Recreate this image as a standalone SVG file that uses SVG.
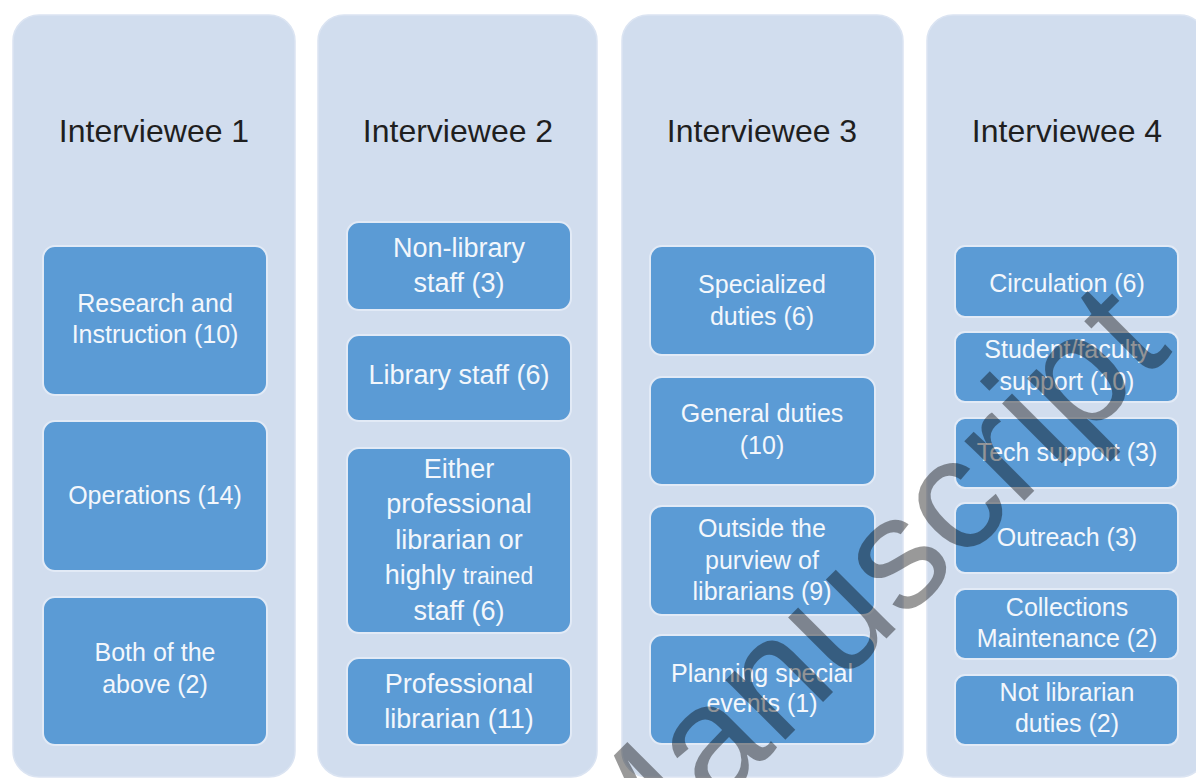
<svg xmlns="http://www.w3.org/2000/svg" width="1196" height="778" viewBox="0 0 1196 778">
<style>
.panel{fill:#d1ddee;stroke:#dbe4f2;stroke-width:1.5}
.box{fill:#5b9bd5;stroke:#e2eaf6;stroke-width:2}
.title{font-family:"Liberation Sans",Arial,sans-serif;font-size:32px;fill:#1f1f1f;text-anchor:middle}
.t{font-family:"Liberation Sans",Arial,sans-serif;font-size:25px;fill:#f3f7fc;text-anchor:middle}
.t2{font-family:"Liberation Sans",Arial,sans-serif;font-size:27px;fill:#f3f7fc;text-anchor:middle}
.wm{font-family:"Liberation Sans",Arial,sans-serif;font-size:160px;fill:#000;fill-opacity:0.4;text-anchor:middle}
</style>
<rect width="1196" height="778" fill="#ffffff"/>

<g id="col1">
<rect class="panel" x="13" y="15" width="282" height="762" rx="26"/>
<text class="title" x="154" y="142">Interviewee 1</text>
</g>
<g id="col2">
<rect class="panel" x="318" y="15" width="279" height="762" rx="26"/>
<text class="title" x="458" y="142">Interviewee 2</text>
</g>
<g id="col3">
<rect class="panel" x="622" y="15" width="281" height="762" rx="26"/>
<text class="title" x="762" y="142">Interviewee 3</text>
</g>
<g id="col4">
<rect class="panel" x="927" y="15" width="279" height="762" rx="26"/>
<text class="title" x="1067" y="142">Interviewee 4</text>
</g>

<g id="connectors"></g>

<g id="n1a"><rect class="box" x="43" y="246" width="224" height="149" rx="12"/>
<text class="t" x="155" y="312">Research and</text><text class="t" x="155" y="343">Instruction (10)</text></g>
<g id="n1b"><rect class="box" x="43" y="421" width="224" height="150" rx="12"/>
<text class="t" x="155" y="504">Operations (14)</text></g>
<g id="n1c"><rect class="box" x="43" y="597" width="224" height="148" rx="12"/>
<text class="t" x="155" y="661">Both of the</text><text class="t" x="155" y="693">above (2)</text></g>

<g id="n2a"><rect class="box" x="347" y="222" width="224" height="88" rx="12"/>
<text class="t2" x="459" y="257">Non-library</text><text class="t2" x="459" y="292">staff (3)</text></g>
<g id="n2b"><rect class="box" x="347" y="335" width="224" height="86" rx="12"/>
<text class="t2" x="459" y="384">Library staff (6)</text></g>
<g id="n2c"><rect class="box" x="347" y="448" width="224" height="185" rx="12"/>
<text class="t2" x="459" y="478">Either</text><text class="t2" x="459" y="513">professional</text><text class="t2" x="459" y="549">librarian or</text><text class="t2" x="459" y="584">highly <tspan font-size="23">trained</tspan></text><text class="t2" x="459" y="620">staff (6)</text></g>
<g id="n2d"><rect class="box" x="347" y="658" width="224" height="87" rx="12"/>
<text class="t2" x="459" y="693">Professional</text><text class="t2" x="459" y="728">librarian (11)</text></g>

<g id="n3a"><rect class="box" x="650" y="246" width="225" height="109" rx="12"/>
<text class="t" x="762" y="293">Specialized</text><text class="t" x="762" y="325">duties (6)</text></g>
<g id="n3b"><rect class="box" x="650" y="377" width="225" height="108" rx="12"/>
<text class="t" x="762" y="422">General duties</text><text class="t" x="762" y="454">(10)</text></g>
<g id="n3c"><rect class="box" x="650" y="506" width="225" height="109" rx="12"/>
<text class="t" x="762" y="537">Outside the</text><text class="t" x="762" y="569">purview of</text><text class="t" x="762" y="600">librarians (9)</text></g>
<g id="n3d"><rect class="box" x="650" y="635" width="225" height="109" rx="12"/>
<text class="t" x="762" y="682">Planning special</text><text class="t" x="762" y="712">events (1)</text></g>

<g id="n4a"><rect class="box" x="955" y="246" width="223" height="71" rx="10"/>
<text class="t" x="1067" y="292">Circulation (6)</text></g>
<g id="n4b"><rect class="box" x="955" y="332" width="223" height="70" rx="10"/>
<text class="t" x="1067" y="358">Student/faculty</text><text class="t" x="1067" y="390">support (10)</text></g>
<g id="n4c"><rect class="box" x="955" y="418" width="223" height="70" rx="10"/>
<text class="t" x="1067" y="461">Tech support (3)</text></g>
<g id="n4d"><rect class="box" x="955" y="503" width="223" height="70" rx="10"/>
<text class="t" x="1067" y="546">Outreach (3)</text></g>
<g id="n4e"><rect class="box" x="955" y="589" width="223" height="70" rx="10"/>
<text class="t" x="1067" y="616">Collections</text><text class="t" x="1067" y="647">Maintenance (2)</text></g>
<g id="n4f"><rect class="box" x="955" y="675" width="223" height="70" rx="10"/>
<text class="t" x="1067" y="701">Not librarian</text><text class="t" x="1067" y="732">duties (2)</text></g>

<g id="watermark">
<text class="wm" x="0" y="0" transform="translate(897,628) rotate(-45)">Manuscript</text>
</g>
</svg>
